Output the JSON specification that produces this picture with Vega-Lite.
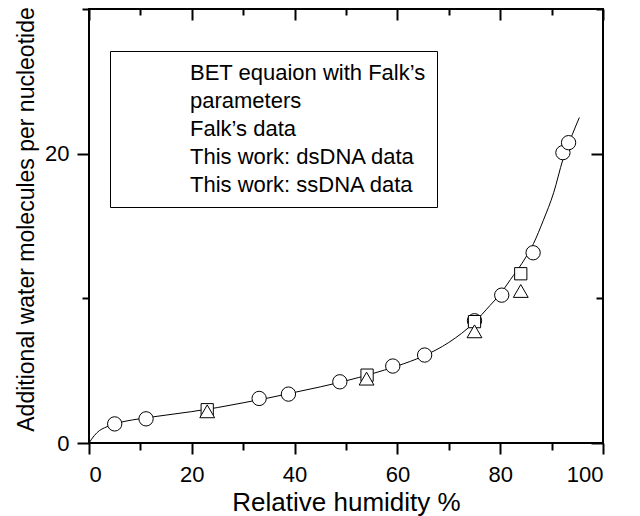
{
  "$schema": "https://vega.github.io/schema/vega-lite/v6.json",
  "width": 514,
  "height": 434,
  "autosize": {"type": "none"},
  "padding": {"left": 89, "top": 9, "right": 37, "bottom": 73},
  "background": "white",
  "config": {
    "view": {"stroke": "black", "strokeWidth": 2},
    "axis": {
      "grid": false,
      "domain": false,
      "tickColor": "black",
      "tickWidth": 2,
      "labelFont": "Liberation Sans",
      "labelFontSize": 22,
      "labelColor": "black",
      "titleFont": "Liberation Sans",
      "titleColor": "black",
      "titleFontWeight": "normal"
    },
    "legend": {
      "symbolStrokeColor": "black",
      "symbolFillColor": "white",
      "symbolStrokeWidth": 1,
      "symbolOpacity": 1,
      "symbolSize": 90
    }
  },
  "datasets": {
    "curve": [
      {"rh": 0, "w": 0},
      {"rh": 1, "w": 0.5},
      {"rh": 2, "w": 0.85},
      {"rh": 3, "w": 1.05},
      {"rh": 4, "w": 1.2},
      {"rh": 5, "w": 1.32},
      {"rh": 7, "w": 1.5},
      {"rh": 10, "w": 1.68},
      {"rh": 15, "w": 1.93},
      {"rh": 20, "w": 2.17},
      {"rh": 25, "w": 2.45},
      {"rh": 30, "w": 2.78},
      {"rh": 35, "w": 3.12},
      {"rh": 40, "w": 3.5},
      {"rh": 45, "w": 3.88},
      {"rh": 50, "w": 4.3},
      {"rh": 55, "w": 4.78},
      {"rh": 60, "w": 5.33},
      {"rh": 65, "w": 6.0},
      {"rh": 70, "w": 6.95},
      {"rh": 75, "w": 8.35},
      {"rh": 78, "w": 9.5},
      {"rh": 80, "w": 10.3},
      {"rh": 82, "w": 11.3},
      {"rh": 84.2, "w": 12.4},
      {"rh": 86.5, "w": 13.8},
      {"rh": 88.4, "w": 15.4},
      {"rh": 90.4, "w": 17.3},
      {"rh": 92.2, "w": 19.6},
      {"rh": 94, "w": 21.3},
      {"rh": 95.4, "w": 22.5}
    ],
    "pts": [
      {"series": "Falk’s data", "rh": 5.0, "w": 1.32},
      {"series": "Falk’s data", "rh": 11.1, "w": 1.67},
      {"series": "Falk’s data", "rh": 33.1, "w": 3.08},
      {"series": "Falk’s data", "rh": 38.8, "w": 3.38},
      {"series": "Falk’s data", "rh": 48.8, "w": 4.23},
      {"series": "Falk’s data", "rh": 59.1, "w": 5.32},
      {"series": "Falk’s data", "rh": 65.3, "w": 6.08},
      {"series": "Falk’s data", "rh": 75.0, "w": 8.45},
      {"series": "Falk’s data", "rh": 80.3, "w": 10.22},
      {"series": "Falk’s data", "rh": 86.4, "w": 13.15},
      {"series": "Falk’s data", "rh": 92.2, "w": 20.07},
      {"series": "Falk’s data", "rh": 93.3, "w": 20.76},
      {"series": "This work: dsDNA data", "rh": 23.0, "w": 2.3},
      {"series": "This work: dsDNA data", "rh": 54.1, "w": 4.69},
      {"series": "This work: dsDNA data", "rh": 75.0, "w": 8.39},
      {"series": "This work: dsDNA data", "rh": 84.0, "w": 11.7},
      {"series": "This work: ssDNA data", "rh": 23.0, "w": 2.19},
      {"series": "This work: ssDNA data", "rh": 54.0, "w": 4.45},
      {"series": "This work: ssDNA data", "rh": 75.0, "w": 7.72},
      {"series": "This work: ssDNA data", "rh": 84.0, "w": 10.51}
    ]
  },
  "resolve": {"axis": {"x": "independent", "y": "independent"}},
  "layer": [
    {
      "data": {"name": "curve"},
      "mark": {"type": "line", "color": "black", "strokeWidth": 1, "interpolate": "monotone"},
      "encoding": {
        "x": {
          "field": "rh", "type": "quantitative",
          "scale": {"domain": [0, 100], "nice": false, "zero": false},
          "axis": {
            "orient": "bottom", "values": [0, 20, 40, 60, 80, 100], "tickSize": 11, "labelPadding": 10,
            "title": "Relative humidity %", "titleFontSize": 26, "titleY": 67, "titleBaseline": "alphabetic"
          }
        },
        "y": {
          "field": "w", "type": "quantitative",
          "scale": {"domain": [0, 30], "nice": false},
          "axis": {
            "orient": "left", "values": [0, 20], "tickSize": 12, "labelPadding": 8,
            "title": "Additional water molecules per nucleotide", "titleFontSize": 23,
            "titleX": -56, "titleY": 210, "titleBaseline": "alphabetic", "titleAngle": -90, "titleAlign": "center"
          }
        }
      }
    },
    {
      "data": {"name": "pts"},
      "transform": [{"filter": "datum.series === 'Falk’s data'"}],
      "mark": {"type": "point", "size": 205, "fill": "white", "stroke": "black", "strokeWidth": 1, "opacity": 1},
      "encoding": {
        "x": {"field": "rh", "type": "quantitative", "axis": {"orient": "bottom", "values": [10, 30, 50, 70, 90], "tickSize": 7, "labels": false, "title": null}},
        "y": {"field": "w", "type": "quantitative", "axis": {"orient": "left", "values": [10, 30], "tickSize": 7, "labels": false, "title": null}},
        "shape": {
          "field": "series", "type": "nominal",
          "scale": {
            "domain": ["BET equaion with Falk’s", "parameters", "Falk’s data", "This work: dsDNA data", "This work: ssDNA data"],
            "range": ["stroke", "circle", "circle", "square", "triangle-up"]
          },
          "legend": {
            "title": null, "orient": "none", "legendX": 21, "legendY": 42,
            "padding": 11, "strokeColor": "black",
            "labelFont": "Liberation Sans", "labelFontSize": 22, "labelColor": "black", "labelLimit": 500,
            "symbolOffset": 17, "labelOffset": 30, "rowPadding": 6,
            "encode": {
              "symbols": {
                "x": {"value": 37},
                "size": {
                  "condition": [
                    {"test": "indexof(datum.value, 'BET') === 0", "value": 2500},
                    {"test": "indexof(datum.value, 'parameters') === 0", "value": 0}
                  ],
                  "value": 90
                },
                "fill": {"value": "white"},
                "stroke": {"value": "black"},
                "strokeWidth": {"value": 1},
                "opacity": {"value": 1}
              },
              "labels": {
                "dx": {
                  "condition": {"test": "indexof(datum.value, 'parameters') === 0", "value": 4},
                  "value": 0
                }
              }
            }
          }
        }
      }
    },
    {
      "data": {"name": "pts"},
      "transform": [{"filter": "datum.series === 'This work: dsDNA data'"}],
      "mark": {"type": "point", "size": 150, "fill": "white", "stroke": "black", "strokeWidth": 1, "opacity": 1},
      "encoding": {
        "x": {"field": "rh", "type": "quantitative", "axis": {"orient": "top", "values": [0, 20, 40, 60, 80, 100], "tickSize": -11, "labels": false, "title": null}},
        "y": {"field": "w", "type": "quantitative", "axis": {"orient": "right", "values": [0, 20], "tickSize": -12, "labels": false, "title": null}},
        "shape": {"field": "series", "type": "nominal", "legend": null}
      }
    },
    {
      "data": {"name": "pts"},
      "transform": [{"filter": "datum.series === 'This work: ssDNA data'"}],
      "mark": {"type": "point", "size": 220, "fill": "white", "stroke": "black", "strokeWidth": 1, "opacity": 1},
      "encoding": {
        "x": {"field": "rh", "type": "quantitative", "axis": {"orient": "top", "values": [10, 30, 50, 70, 90], "tickSize": -6, "labels": false, "title": null}},
        "y": {"field": "w", "type": "quantitative", "axis": {"orient": "right", "values": [10, 30], "tickSize": -7, "labels": false, "title": null}},
        "shape": {"field": "series", "type": "nominal", "legend": null}
      }
    }
  ]
}
